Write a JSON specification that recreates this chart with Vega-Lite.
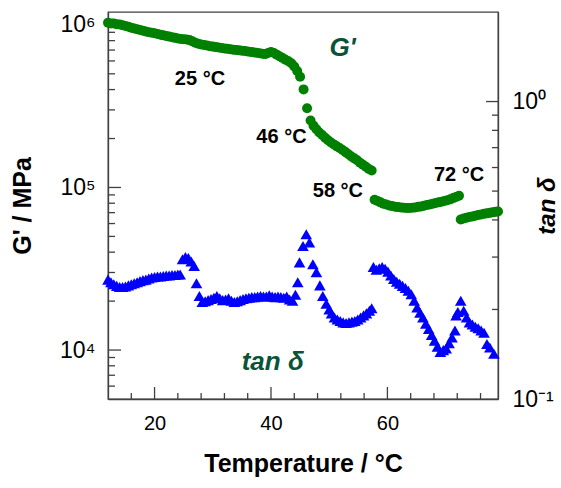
{
  "$schema": "https://vega.github.io/schema/vega-lite/v6.json",
  "width": 390,
  "height": 387,
  "autosize": {"type": "none"},
  "padding": {"left": 108, "top": 12, "right": 63, "bottom": 89},
  "background": "white",
  "config": {
    "view": {"stroke": "#404040", "strokeWidth": 1.3},
    "font": "Liberation Sans",
    "axis": {"domainColor": "#404040", "labelColor": "black", "titleColor": "black", "grid": false, "labelFont": "Liberation Sans", "titleFont": "Liberation Sans", "domainWidth": 1.3, "ticks": false, "tickSize": 0, "labelOverlap": false}
  },
  "datasets": {
    "gp": [
      {"T":12.0,"G":1030000},{"T":12.5,"G":1020000},{"T":13.0,"G":1020000},{"T":13.5,"G":1010000},{"T":14.0,"G":1005000},{"T":14.5,"G":995000},{"T":15.0,"G":985000},{"T":15.5,"G":975000},{"T":16.0,"G":960000},{"T":16.5,"G":950000},{"T":17.0,"G":940000},{"T":17.5,"G":930000},{"T":18.0,"G":920000},{"T":18.5,"G":910000},{"T":19.0,"G":900000},{"T":19.5,"G":895000},{"T":20.0,"G":889000},{"T":20.5,"G":880000},{"T":21.0,"G":870000},{"T":21.5,"G":862000},{"T":22.0,"G":855000},{"T":22.5,"G":847000},{"T":23.0,"G":840000},{"T":23.5,"G":832000},{"T":24.0,"G":825000},{"T":24.5,"G":818000},{"T":25.0,"G":815000},{"T":25.5,"G":812000},{"T":26.0,"G":806000},{"T":26.5,"G":792000},{"T":27.0,"G":777000},{"T":27.5,"G":766000},{"T":28.0,"G":758000},{"T":28.5,"G":752000},{"T":29.0,"G":746000},{"T":29.5,"G":740000},{"T":30.0,"G":735000},{"T":30.5,"G":730000},{"T":31.0,"G":725000},{"T":31.5,"G":720000},{"T":32.0,"G":716000},{"T":32.5,"G":712000},{"T":33.0,"G":708000},{"T":33.5,"G":704000},{"T":34.0,"G":700000},{"T":34.5,"G":697000},{"T":35.0,"G":694000},{"T":35.5,"G":690000},{"T":36.0,"G":686000},{"T":36.5,"G":682000},{"T":37.0,"G":678000},{"T":37.5,"G":674000},{"T":38.0,"G":670000},{"T":38.5,"G":665000},{"T":39.0,"G":661000},{"T":39.5,"G":672000},{"T":40.0,"G":680000},{"T":40.5,"G":672000},{"T":41.0,"G":656000},{"T":41.5,"G":640000},{"T":42.0,"G":625000},{"T":42.5,"G":611000},{"T":43.0,"G":598000},{"T":43.5,"G":580000},{"T":44.0,"G":555000},{"T":44.5,"G":520000},{"T":45.0,"G":480000},{"T":45.6,"G":401000},{"T":46.2,"G":307000},{"T":46.8,"G":258000},{"T":47.3,"G":240000},{"T":47.8,"G":228000},{"T":48.3,"G":218000},{"T":48.8,"G":210000},{"T":49.3,"G":202000},{"T":49.8,"G":195000},{"T":50.3,"G":189000},{"T":50.8,"G":184000},{"T":51.3,"G":179000},{"T":51.8,"G":175000},{"T":52.3,"G":170000},{"T":52.8,"G":165000},{"T":53.3,"G":160000},{"T":53.8,"G":155000},{"T":54.3,"G":151000},{"T":54.8,"G":147000},{"T":55.3,"G":142000},{"T":55.8,"G":138000},{"T":56.3,"G":134000},{"T":56.8,"G":130000},{"T":57.3,"G":127000},
      {"T":57.8,"G":84000},{"T":58.3,"G":82500},{"T":58.8,"G":81000},{"T":59.3,"G":79500},{"T":59.8,"G":78500},{"T":60.3,"G":77500},{"T":60.8,"G":76800},{"T":61.3,"G":76200},{"T":61.8,"G":75700},{"T":62.3,"G":75300},{"T":62.8,"G":75000},{"T":63.3,"G":74800},{"T":63.8,"G":74800},{"T":64.3,"G":75000},{"T":64.8,"G":75300},{"T":65.3,"G":76000},{"T":65.8,"G":76500},{"T":66.3,"G":77200},{"T":66.8,"G":78000},{"T":67.3,"G":78700},{"T":67.8,"G":79500},{"T":68.3,"G":80200},{"T":68.8,"G":81000},{"T":69.3,"G":81700},{"T":69.8,"G":82500},{"T":70.3,"G":83500},{"T":70.8,"G":84500},{"T":71.3,"G":86000},{"T":71.8,"G":87500},{"T":72.3,"G":89000},
      {"T":72.6,"G":63500},{"T":73.1,"G":64500},{"T":73.6,"G":65200},{"T":74.1,"G":65800},{"T":74.6,"G":66300},{"T":75.1,"G":67000},{"T":75.6,"G":67700},{"T":76.1,"G":68300},{"T":76.6,"G":68800},{"T":77.1,"G":69300},{"T":77.6,"G":69800},{"T":78.1,"G":70300},{"T":78.6,"G":70800},{"T":79.0,"G":71200}
    ],
    "td": [
      {"T":12.0,"tan":0.252},{"T":12.5,"tan":0.247},{"T":13.0,"tan":0.243},{"T":13.5,"tan":0.240},{"T":14.0,"tan":0.238},{"T":14.5,"tan":0.238},{"T":15.0,"tan":0.239},{"T":15.5,"tan":0.241},{"T":16.0,"tan":0.243},{"T":16.5,"tan":0.245},{"T":17.0,"tan":0.247},{"T":17.5,"tan":0.249},{"T":18.0,"tan":0.251},{"T":18.5,"tan":0.252},{"T":19.0,"tan":0.254},{"T":19.5,"tan":0.256},{"T":20.0,"tan":0.257},{"T":20.5,"tan":0.258},{"T":21.0,"tan":0.258},{"T":21.5,"tan":0.259},{"T":22.0,"tan":0.260},{"T":22.5,"tan":0.260},{"T":23.0,"tan":0.261},{"T":23.5,"tan":0.261},{"T":24.0,"tan":0.262},{"T":24.4,"tan":0.262},
      {"T":24.8,"tan":0.295},{"T":25.3,"tan":0.300},{"T":25.8,"tan":0.298},{"T":26.3,"tan":0.290},{"T":26.8,"tan":0.280},{"T":27.2,"tan":0.245},{"T":27.7,"tan":0.222},{"T":28.2,"tan":0.212},{"T":28.7,"tan":0.213},{"T":29.2,"tan":0.215},{"T":29.7,"tan":0.217},{"T":30.2,"tan":0.219},{"T":30.7,"tan":0.222},{"T":31.2,"tan":0.218},{"T":31.7,"tan":0.215},{"T":32.2,"tan":0.216},{"T":32.7,"tan":0.218},{"T":33.2,"tan":0.214},{"T":33.7,"tan":0.212},{"T":34.2,"tan":0.213},{"T":34.7,"tan":0.215},{"T":35.2,"tan":0.217},{"T":35.7,"tan":0.218},{"T":36.2,"tan":0.219},{"T":36.7,"tan":0.220},{"T":37.2,"tan":0.220},{"T":37.7,"tan":0.221},{"T":38.2,"tan":0.222},{"T":38.7,"tan":0.221},{"T":39.2,"tan":0.221},{"T":39.7,"tan":0.223},{"T":40.2,"tan":0.221},{"T":40.7,"tan":0.220},{"T":41.2,"tan":0.221},{"T":41.7,"tan":0.220},{"T":42.2,"tan":0.219},{"T":42.7,"tan":0.221},{"T":43.2,"tan":0.216},{"T":43.7,"tan":0.214},{"T":44.2,"tan":0.224},{"T":44.6,"tan":0.247},{"T":44.9,"tan":0.288},{"T":45.5,"tan":0.327},{"T":46.06,"tan":0.358},{"T":46.6,"tan":0.336},{"T":47.2,"tan":0.284},{"T":47.8,"tan":0.267},{"T":48.4,"tan":0.241},{"T":48.9,"tan":0.222},{"T":49.5,"tan":0.209},{"T":50.0,"tan":0.200},{"T":50.4,"tan":0.194},{"T":50.9,"tan":0.188},{"T":51.4,"tan":0.185},{"T":51.9,"tan":0.183},{"T":52.4,"tan":0.181},{"T":52.9,"tan":0.180},{"T":53.4,"tan":0.181},{"T":53.9,"tan":0.182},{"T":54.4,"tan":0.183},{"T":54.9,"tan":0.185},{"T":55.4,"tan":0.188},{"T":55.9,"tan":0.191},{"T":56.4,"tan":0.194},{"T":56.9,"tan":0.198},{"T":57.3,"tan":0.202},
      {"T":57.6,"tan":0.278},{"T":58.1,"tan":0.272},{"T":58.6,"tan":0.275},{"T":59.1,"tan":0.278},{"T":59.6,"tan":0.274},{"T":60.1,"tan":0.268},{"T":60.6,"tan":0.260},{"T":61.1,"tan":0.253},{"T":61.6,"tan":0.248},{"T":62.1,"tan":0.244},{"T":62.6,"tan":0.240},{"T":63.1,"tan":0.236},{"T":63.6,"tan":0.231},{"T":64.1,"tan":0.225},{"T":64.6,"tan":0.214},{"T":65.1,"tan":0.203},{"T":65.6,"tan":0.195},{"T":66.1,"tan":0.188},{"T":66.6,"tan":0.179},{"T":67.1,"tan":0.172},{"T":67.6,"tan":0.164},{"T":68.1,"tan":0.157},{"T":68.6,"tan":0.150},{"T":69.1,"tan":0.144},{"T":69.6,"tan":0.146},{"T":70.1,"tan":0.148},{"T":70.6,"tan":0.154},{"T":71.1,"tan":0.161},{"T":71.6,"tan":0.170},{"T":71.8,"tan":0.191},{"T":72.1,"tan":0.196},{"T":72.6,"tan":0.214},{"T":73.1,"tan":0.198},{"T":73.6,"tan":0.188},{"T":74.1,"tan":0.181},{"T":74.6,"tan":0.178},{"T":75.1,"tan":0.175},{"T":75.6,"tan":0.173},{"T":76.1,"tan":0.170},{"T":76.6,"tan":0.167},{"T":77.1,"tan":0.153},{"T":77.6,"tan":0.149},{"T":78.3,"tan":0.142}
    ],
    "ann": [
      {"T":27.8,"G":463000,"label":"25 °C"},
      {"T":41.8,"G":203000,"label":"46 °C"},
      {"T":51.5,"G":95500,"label":"58 °C"},
      {"T":72.3,"G":120000,"label":"72 °C"}
    ],
    "ann2": [
      {"T":52.3,"G":721000,"label":"G'"},
      {"T":40.3,"G":8500,"label":"tan δ"}
    ],
    "xminor": [{"T":16},{"T":24},{"T":28},{"T":32},{"T":36},{"T":44},{"T":48},{"T":52},{"T":56},{"T":64},{"T":68},{"T":72},{"T":76}],
    "xmajor": [{"T":20},{"T":40},{"T":60}],
    "gminor": [{"G":6000},{"G":7000},{"G":8000},{"G":9000},{"G":20000},{"G":30000},{"G":40000},{"G":50000},{"G":60000},{"G":70000},{"G":80000},{"G":90000},{"G":200000},{"G":300000},{"G":400000},{"G":500000},{"G":600000},{"G":700000},{"G":800000},{"G":900000}],
    "gmajor": [{"G":10000},{"G":100000},{"G":1000000}],
    "tminor": [{"tan":0.2},{"tan":0.3},{"tan":0.4},{"tan":0.5},{"tan":0.6},{"tan":0.7},{"tan":0.8},{"tan":0.9}],
    "tmajor": [{"tan":1}]
  },
  "layer": [
    {
      "data": {"name": "xminor"},
      "mark": {"type": "tick", "orient": "vertical", "size": 6, "thickness": 1.3, "color": "#404040", "opacity": 1, "yOffset": -3},
      "encoding": {
        "x": {"field": "T", "type": "quantitative", "scale": {"domain": [12, 79], "nice": false, "zero": false},
          "axis": {"values": [20, 40, 60], "labelFontSize": 20, "labelPadding": 14,
            "title": "Temperature / °C", "titleFontSize": 25, "titleFontWeight": "bold", "titlePadding": 18}},
        "y": {"datum": 5000, "type": "quantitative", "scale": {"type": "log", "domain": [5000, 1200000], "nice": false}, "axis": null}
      }
    },
    {
      "data": {"name": "xmajor"},
      "mark": {"type": "tick", "orient": "vertical", "size": 12, "thickness": 1.3, "color": "#404040", "opacity": 1, "yOffset": -6},
      "encoding": {
        "x": {"field": "T", "type": "quantitative"},
        "y": {"datum": 5000, "type": "quantitative", "scale": {"type": "log", "domain": [5000, 1200000], "nice": false}, "axis": null}
      }
    },
    {
      "data": {"name": "gminor"},
      "mark": {"type": "tick", "orient": "horizontal", "size": 7, "thickness": 1.3, "color": "#404040", "opacity": 1, "xOffset": 3.5},
      "encoding": {
        "x": {"datum": 12, "type": "quantitative"},
        "y": {"field": "G", "type": "quantitative", "scale": {"type": "log", "domain": [5000, 1200000], "nice": false}, "axis": null}
      }
    },
    {
      "data": {"name": "gmajor"},
      "mark": {"type": "tick", "orient": "horizontal", "size": 13, "thickness": 1.3, "color": "#404040", "opacity": 1, "xOffset": 6.5},
      "encoding": {
        "x": {"datum": 12, "type": "quantitative"},
        "y": {"field": "G", "type": "quantitative", "scale": {"type": "log", "domain": [5000, 1200000], "nice": false}, "axis": null}
      }
    },
    {
      "data": {"name": "tminor"},
      "mark": {"type": "tick", "orient": "horizontal", "size": 6, "thickness": 1.3, "color": "#404040", "opacity": 1, "xOffset": -3},
      "encoding": {
        "x": {"datum": 79, "type": "quantitative"},
        "y": {"field": "tan", "type": "quantitative", "scale": {"type": "log", "domain": [0.1, 2], "nice": false}, "axis": null}
      }
    },
    {
      "data": {"name": "tmajor"},
      "mark": {"type": "tick", "orient": "horizontal", "size": 12, "thickness": 1.3, "color": "#404040", "opacity": 1, "xOffset": -6},
      "encoding": {
        "x": {"datum": 79, "type": "quantitative"},
        "y": {"field": "tan", "type": "quantitative", "scale": {"type": "log", "domain": [0.1, 2], "nice": false}, "axis": null}
      }
    },
    {
      "data": {"name": "gp"},
      "mark": {"type": "circle", "color": "#008000", "opacity": 1, "size": 100},
      "encoding": {
        "x": {"field": "T", "type": "quantitative"},
        "y": {"field": "G", "type": "quantitative", "scale": {"type": "log", "domain": [5000, 1200000], "nice": false},
          "axis": {"orient": "left", "values": [10000, 100000, 1000000],
            "labelExpr": "datum.value == 10000 ? '10⁴' : datum.value == 100000 ? '10⁵' : '10⁶'",
            "labelFontSize": 23, "labelPadding": 13,
            "title": "G'  /  MPa", "titleFontSize": 25, "titleFontWeight": "bold", "titlePadding": 24}}
      }
    },
    {
      "data": {"name": "ann"},
      "mark": {"type": "text", "fontSize": 20, "fontWeight": "bold", "color": "black", "align": "center", "baseline": "middle"},
      "encoding": {
        "x": {"field": "T", "type": "quantitative"},
        "y": {"field": "G", "type": "quantitative", "scale": {"type": "log", "domain": [5000, 1200000], "nice": false}, "axis": null},
        "text": {"field": "label"}
      }
    },
    {
      "data": {"name": "ann2"},
      "mark": {"type": "text", "fontSize": 26, "fontWeight": "bold", "fontStyle": "italic", "color": "#0B5338", "align": "center", "baseline": "middle"},
      "encoding": {
        "x": {"field": "T", "type": "quantitative"},
        "y": {"field": "G", "type": "quantitative", "scale": {"type": "log", "domain": [5000, 1200000], "nice": false}, "axis": null},
        "text": {"field": "label"}
      }
    },
    {
      "data": {"name": "td"},
      "mark": {"type": "point", "shape": "triangle-up", "filled": true, "color": "#0000FF", "opacity": 1, "size": 135},
      "encoding": {
        "x": {"field": "T", "type": "quantitative"},
        "y": {"field": "tan", "type": "quantitative", "scale": {"type": "log", "domain": [0.1, 2], "nice": false},
          "axis": {"orient": "right", "values": [0.1, 1],
            "labelExpr": "datum.value == 1 ? '10⁰' : '10⁻¹'",
            "labelFontSize": 23, "labelPadding": 14,
            "title": "tan δ", "titleFontSize": 24, "titleFontWeight": "bold", "titleFontStyle": "italic", "titleAngle": 270, "titlePadding": 6}}
      }
    }
  ],
  "resolve": {"scale": {"y": "independent"}}
}
